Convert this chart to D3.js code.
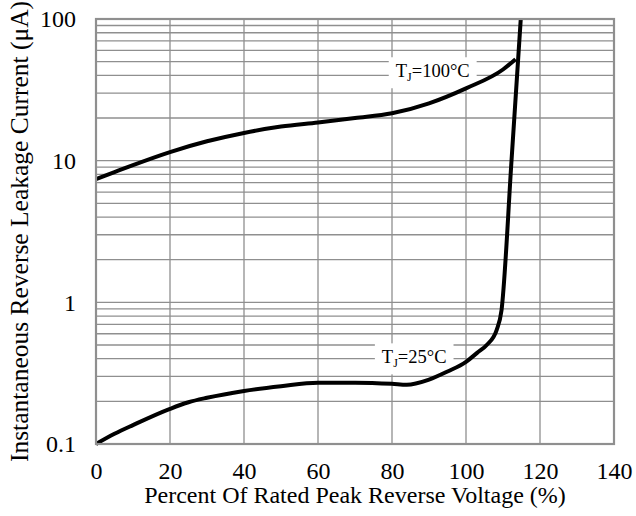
<!DOCTYPE html>
<html lang="en">
  <head>
    <meta charset="utf-8">
    <style>
      body { margin: 0; background: #ffffff; }
      text { font-family: "Liberation Serif", "Times New Roman", serif; fill: #000000; }
    </style>
    <script src="https://d3js.org/d3.v7.min.js"></script>
  </head>
  <body>
    <div id="chart"></div>
  <script>
    // curves
    var pct25 = [0, 5, 10, 20, 25, 30, 40, 50, 60, 70, 80, 84, 90, 95, 100, 103, 105.6, 108.3, 109.6, 112.3, 114.8];
    var cur25 = [0.1, 0.118, 0.136, 0.177, 0.197, 0.212, 0.237, 0.256, 0.271, 0.271, 0.266, 0.262, 0.285, 0.325, 0.38, 0.44, 0.5, 0.64, 0.88, 10, 100];

    var pct100 = [0, 5, 10, 20, 30, 40, 50, 60, 70, 80, 90, 100, 110, 113.4];
    var cur100 = [7.4, 8.3, 9.3, 11.5, 13.7, 15.7, 17.4, 18.6, 20, 21.6, 25.4, 32.4, 44, 52];

    var xTicks = [0, 20, 40, 60, 80, 100, 120, 140];
    var yTicks = [0.1, 1, 10, 100];
    var yTickLabels = ["0.1", "1", "10", "100"];

    // label name, subscript, rest, and where it sits (x %, current)
    var labelText = ["T", "J", "=100°C", "T", "J", "=25°C"];
    var labelPct = [91, 86];
    var labelCur = [38.8, 0.371];

    var margin = {top: 19, right: 22, bottom: 72, left: 96},
        width = 636 - margin.left - margin.right,
        height = 516 - margin.top - margin.bottom;

    var svg = d3.select("#chart")
      .append("svg")
        .attr("width", 636)
        .attr("height", 516)
      .append("g")
        .attr("transform", "translate(" + margin.left + "," + margin.top + ")");

    var x = d3.scaleLinear().domain([0, 140]).range([0, width]);
    var y = d3.scaleLog().domain([0.1, 100]).range([height, 0]);

    var gridColor = "#8f8f8f";

    // horizontal grid: every 1..9 in each decade
    var yGrid = [];
    [0.1, 1, 10].forEach(function(d) {
      for (var k = 1; k <= 9; k++) yGrid.push(d * k);
    });
    svg.selectAll("hgrid")
      .data(yGrid)
      .enter()
      .append("line")
        .attr("x1", 0).attr("x2", width)
        .attr("y1", function(d) { return y(d) })
        .attr("y2", function(d) { return y(d) })
        .attr("stroke", gridColor)
        .attr("stroke-width", 1.3);

    svg.selectAll("vgrid")
      .data(xTicks)
      .enter()
      .append("line")
        .attr("x1", function(d) { return x(d) })
        .attr("x2", function(d) { return x(d) })
        .attr("y1", 0).attr("y2", height)
        .attr("stroke", gridColor)
        .attr("stroke-width", 1.3);

    // labels (white boxes behind, text drawn later on top)
    var labels = [0, 1].map(function(i) {
      return {pct: labelPct[i], cur: labelCur[i], parts: labelText.slice(i * 3, i * 3 + 3)};
    });
    var boxG = svg.append("g");
    var textG = svg.append("g");

    var line = d3.line()
      .x(function(d) { return x(d[0]) })
      .y(function(d) { return y(d[1]) })
      .curve(d3.curveMonotoneX);

    var curves = [
      pct25.map(function(p, i) { return [p, cur25[i]] }),
      pct100.map(function(p, i) { return [p, cur100[i]] })
    ];

    labels.forEach(function(d) {
      var t = textG.append("text")
        .attr("x", x(d.pct))
        .attr("y", y(d.cur))
        .attr("text-anchor", "middle")
        .style("font-size", "18.5px");
      t.append("tspan").text(d.parts[0]);
      t.append("tspan").text(d.parts[1]).attr("dy", 4).style("font-size", "12px");
      t.append("tspan").text(d.parts[2]).attr("dy", -4);
      var b = t.node().getBBox();
      boxG.append("rect")
        .attr("x", b.x - 7)
        .attr("y", b.y - 4)
        .attr("width", b.width + 14)
        .attr("height", b.height + 8)
        .attr("fill", "#ffffff");
    });

    svg.append("g").selectAll("path")
      .data(curves)
      .enter()
      .append("path")
        .attr("d", function(d) { return line(d) })
        .attr("fill", "none")
        .attr("stroke", "#000000")
        .attr("stroke-width", 4)
        .attr("stroke-linejoin", "round");

    textG.raise();

    // plot border
    svg.append("rect")
      .attr("x", 0).attr("y", 0)
      .attr("width", width).attr("height", height)
      .attr("fill", "none")
      .attr("stroke", gridColor)
      .attr("stroke-width", 2.2);

    // axes (labels only)
    var xAxis = svg.append("g")
      .attr("transform", "translate(0," + height + ")")
      .call(d3.axisBottom(x).tickValues(xTicks).tickSize(0).tickPadding(18));
    xAxis.select(".domain").remove();
    xAxis.selectAll("text").style("font-size", "24px").style("font-family", "Liberation Serif");

    var yAxis = svg.append("g")
      .call(d3.axisLeft(y).tickValues(yTicks).tickSize(0).tickPadding(20)
        .tickFormat(function(d, i) { return yTickLabels[i] }));
    yAxis.select(".domain").remove();
    yAxis.selectAll("text").style("font-size", "24px").style("font-family", "Liberation Serif");

    svg.append("text")
      .attr("x", width / 2)
      .attr("y", height + 59)
      .attr("text-anchor", "middle")
      .style("font-size", "24px")
      .text("Percent Of Rated Peak Reverse Voltage (%)");

    svg.append("text")
      .attr("transform", "translate(" + (-68) + "," + (height / 2) + ") rotate(-90)")
      .attr("text-anchor", "middle")
      .style("font-size", "25.5px")
      .text("Instantaneous Reverse Leakage Current (μA)");
  </script>
  </body>
</html>
